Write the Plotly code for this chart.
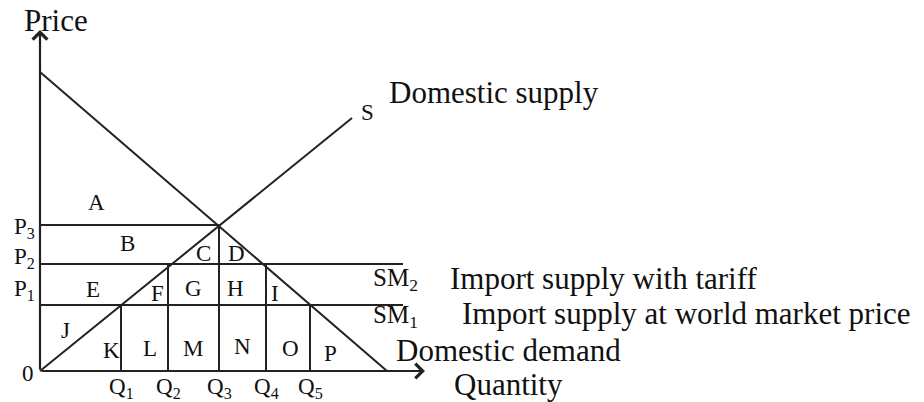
import plotly.graph_objects as go

# quantity / price levels (arbitrary units)
q_levels = [8.1, 12.8, 17.9, 22.6, 27.0]
q_names = ['Q<sub>1</sub>', 'Q<sub>2</sub>', 'Q<sub>3</sub>', 'Q<sub>4</sub>', 'Q<sub>5</sub>']
p_levels = [6.6, 10.7, 14.6]
p_names = ['P<sub>1</sub>', 'P<sub>2</sub>', 'P<sub>3</sub>']

# which price each quantity line rises to
q_tops = [6.6, 10.7, 14.6, 10.7, 6.6]

demand_x = [0, 34.7]
demand_y = [29.9, 0]
supply_x = [0, 31.2]
supply_y = [0, 25.3]

sm_end = 36.3
x_axis_end = 38.5
y_axis_end = 34.1

area_letters = ['A', 'B', 'C', 'D', 'E', 'F', 'G', 'H', 'I', 'J', 'K', 'L', 'M', 'N', 'O', 'P']
area_x = [5.6, 8.7, 16.3, 19.6, 5.3, 11.7, 15.3, 19.5, 23.5, 2.5, 7.1, 11.0, 15.3, 20.2, 25.0, 29.0]
area_y = [16.9, 12.8, 11.8, 11.8, 8.2, 7.8, 8.3, 8.3, 7.8, 4.1, 2.1, 2.3, 2.3, 2.5, 2.3, 1.8]

line_col = '#222222'
font = 'Liberation Serif'

fig = go.Figure()

def seg(xs, ys, w=2):
    fig.add_trace(go.Scatter(x=xs, y=ys, mode='lines',
                             line=dict(color=line_col, width=w),
                             showlegend=False, hoverinfo='skip'))

seg(demand_x, demand_y)
seg(supply_x, supply_y)

# horizontal price lines
seg([0, q_levels[2]], [p_levels[2], p_levels[2]])
seg([0, sm_end], [p_levels[1], p_levels[1]])
seg([0, sm_end], [p_levels[0], p_levels[0]])

# vertical quantity lines
for q, top in zip(q_levels, q_tops):
    seg([q, q], [0, top])

# axes with arrows
fig.add_annotation(x=x_axis_end, y=0, ax=0, ay=0, xref='x', yref='y', axref='x', ayref='y',
                   showarrow=True, arrowhead=4, arrowsize=1.3, arrowwidth=2.2, arrowcolor=line_col, text='')
fig.add_annotation(x=0, y=y_axis_end, ax=0, ay=0, xref='x', yref='y', axref='x', ayref='y',
                   showarrow=True, arrowhead=4, arrowsize=1.3, arrowwidth=2.2, arrowcolor=line_col, text='')

def label(txt, x, y, size=23, xanchor='center'):
    fig.add_annotation(x=x, y=y, text=txt, showarrow=False, xanchor=xanchor, yanchor='middle',
                       font=dict(family=font, size=size, color='#111111'))

for t, x, y in zip(area_letters, area_x, area_y):
    label(t, x, y)

for t, y in zip(p_names, [8.1, 11.3, 14.3]):
    label(t, -1.6, y)

for t, q in zip(q_names, q_levels):
    label(t, q, -1.7)

label('0', -1.2, -0.2)
label('S', 32.7, 25.9)
label('SM<sub>2</sub>', 33.1, 9.2, size=25, xanchor='left')
label('SM<sub>1</sub>', 33.1, 5.5, size=25, xanchor='left')

label('Price', -1.8, 35.1, size=31, xanchor='left')
label('Domestic supply', 34.7, 27.9, size=31, xanchor='left')
label('Import supply with tariff', 40.8, 9.3, size=31, xanchor='left')
label('Import supply at world market price', 42.0, 5.8, size=31, xanchor='left')
label('Domestic demand', 35.4, 2.1, size=31, xanchor='left')
label('Quantity', 41.2, -1.35, size=31, xanchor='left')

fig.update_xaxes(range=[-4.0, 88.4], visible=False)
fig.update_yaxes(range=[-3.1, 37.1], visible=False)
fig.update_layout(width=924, height=402, margin=dict(l=0, r=0, t=0, b=0),
                  plot_bgcolor='white', paper_bgcolor='white')

# page has a default 8px body margin; drop it so the chart sits at 0,0
fig.write_html("out.html", config={'displayModeBar': False},
               post_script="document.body.style.margin='0';")
